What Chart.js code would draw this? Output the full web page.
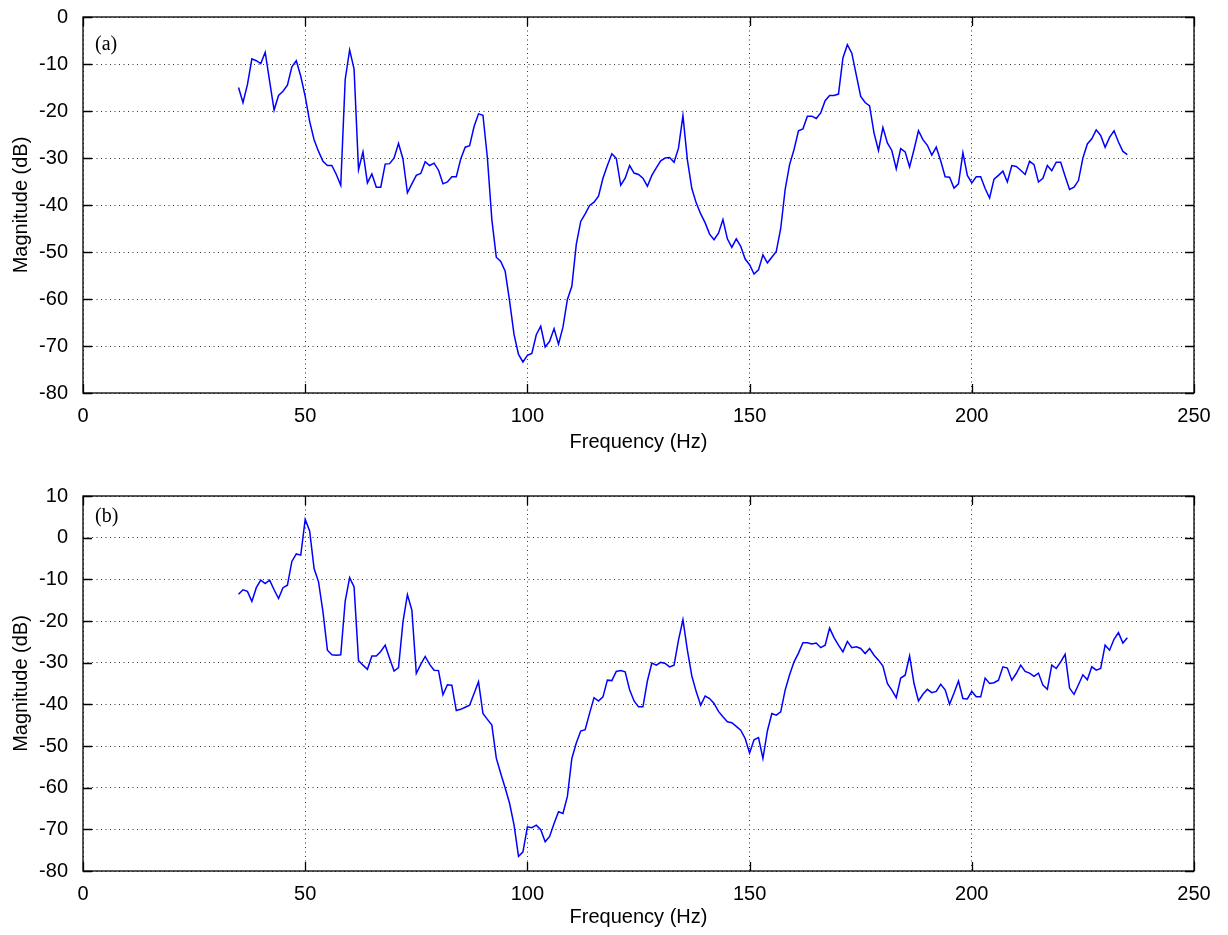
<!DOCTYPE html>
<html>
<head>
<meta charset="utf-8">
<title>Magnitude vs Frequency</title>
<script src="https://cdn.jsdelivr.net/npm/chart.js@4.4.0/dist/chart.umd.min.js"></script>
<style>
  html, body { margin: 0; padding: 0; background: #fff; }
  #wrap { position: relative; width: 1228px; height: 935px; }
  canvas { position: absolute; left: 0; }
  #chartA { top: 0; }
  #chartB { top: 467px; }
</style>
</head>
<body>
<div id="wrap">
  <canvas id="chartA" width="1228" height="467"></canvas>
  <canvas id="chartB" width="1228" height="468"></canvas>
</div>
<script>
// spectra sampled every 1 Hz starting at 35 Hz
const FREQ_START = 35;

// (a) magnitude in dB, 35..235 Hz
const magA = [
  -15.0, -18.2, -14.4, -8.9, -9.3, -9.9, -7.5, -13.7, -19.8, -16.7,
  -15.8, -14.5, -10.6, -9.3, -12.6, -16.9, -22.2, -26.1, -28.6, -30.7,
  -31.6, -31.6, -33.5, -35.8, -13.3, -7.0, -11.1, -32.5, -28.7, -35.3,
  -33.4, -36.2, -36.2, -31.3, -31.2, -30.0, -26.9, -30.2, -37.4, -35.5,
  -33.7, -33.3, -30.8, -31.6, -31.1, -32.6, -35.5, -35.1, -34.0, -34.0,
  -30.2, -27.7, -27.4, -23.3, -20.6, -20.9, -30.0, -43.1, -51.1, -52.0,
  -54.1, -60.5, -67.6, -71.8, -73.4, -72.0, -71.6, -67.6, -65.8, -70.2,
  -69.0, -66.3, -69.6, -66.0, -60.1, -57.3, -48.4, -43.5, -41.9, -40.1,
  -39.4, -38.1, -34.3, -31.6, -29.1, -30.1, -35.8, -34.3, -31.6, -33.2,
  -33.5, -34.3, -36.0, -33.7, -32.1, -30.6, -30.0, -29.9, -30.9, -27.9,
  -21.0, -30.4, -36.5, -39.6, -41.9, -43.8, -46.2, -47.4, -46.0, -43.1,
  -47.2, -49.0, -47.2, -48.8, -51.5, -52.7, -54.7, -53.8, -50.6, -52.3,
  -51.1, -49.9, -45.0, -36.7, -31.4, -28.2, -24.2, -23.8, -21.1, -21.1,
  -21.6, -20.4, -17.8, -16.7, -16.7, -16.4, -8.7, -5.9, -7.7, -12.3,
  -16.9, -18.2, -18.9, -24.7, -28.4, -23.5, -26.8, -28.4, -32.3, -28.0,
  -28.7, -31.9, -28.2, -24.2, -26.1, -27.3, -29.4, -27.7, -30.6, -34.0,
  -34.1, -36.4, -35.5, -28.9, -33.7, -35.3, -34.0, -34.0, -36.5, -38.5,
  -34.5, -33.7, -32.8, -35.1, -31.6, -31.8, -32.6, -33.5, -30.7, -31.4,
  -35.1, -34.3, -31.6, -32.7, -30.9, -30.9, -33.9, -36.7, -36.2, -34.8,
  -30.0, -27.0, -25.9, -24.0, -25.2, -27.7, -25.6, -24.2, -26.6, -28.6,
  -29.3
];

// (b) magnitude in dB, 35..235 Hz
const magB = [
  -13.6, -12.5, -12.9, -15.3, -12.0, -10.2, -11.0, -10.2, -12.5, -14.6,
  -12.0, -11.4, -5.7, -3.9, -4.2, 4.4, 1.6, -7.4, -10.6, -17.8,
  -27.0, -28.1, -28.2, -28.1, -15.2, -9.6, -11.8, -29.5, -30.6, -31.6,
  -28.4, -28.4, -27.3, -25.8, -29.0, -32.0, -31.2, -20.2, -13.7, -17.4,
  -32.6, -30.4, -28.5, -30.4, -31.8, -31.9, -37.7, -35.3, -35.4, -41.5,
  -41.2, -40.7, -40.2, -37.4, -34.6, -42.2, -43.6, -45.0, -52.9, -56.6,
  -60.1, -63.8, -69.0, -76.5, -75.4, -69.4, -69.6, -69.0, -70.1, -73.0,
  -71.7, -68.6, -65.8, -66.2, -62.1, -53.0, -49.3, -46.4, -46.1, -42.1,
  -38.4, -39.2, -38.2, -34.2, -34.3, -32.1, -31.9, -32.2, -36.5, -39.2,
  -40.6, -40.6, -34.4, -30.1, -30.6, -29.9, -30.2, -31.0, -30.6, -24.6,
  -19.7, -27.0, -33.2, -37.0, -40.2, -38.0, -38.6, -39.8, -41.7, -43.0,
  -44.2, -44.4, -45.3, -46.2, -48.2, -51.7, -48.5, -48.0, -53.0, -46.4,
  -42.2, -42.6, -41.8, -36.6, -32.9, -29.8, -27.7, -25.2, -25.2, -25.5,
  -25.3, -26.4, -25.8, -21.7, -24.0, -25.8, -27.4, -24.9, -26.4, -26.2,
  -26.6, -27.8, -26.6, -28.2, -29.4, -30.8, -35.0, -36.6, -38.4, -33.7,
  -33.0, -28.4, -35.0, -39.2, -37.6, -36.4, -37.2, -36.9, -35.2, -36.5,
  -40.0, -37.3, -34.4, -38.6, -38.7, -36.9, -38.2, -38.2, -33.7, -35.0,
  -34.8, -34.2, -31.0, -31.3, -34.2, -32.6, -30.6, -32.1, -32.5, -33.3,
  -32.5, -35.4, -36.4, -30.6, -31.4, -29.8, -28.0, -36.1, -37.6, -35.3,
  -32.9, -34.1, -31.0, -31.8, -31.4, -25.8, -27.0, -24.4, -22.8, -25.3,
  -24.0
];

const xTicks = [0, 50, 100, 150, 200, 250];
const yTicksA = [-80, -70, -60, -50, -40, -30, -20, -10, 0];
const yTicksB = [-80, -70, -60, -50, -40, -30, -20, -10, 0, 10];

const SANS = '"Liberation Sans", Arial, Helvetica, sans-serif';

// box round the plot, inward tick marks and the panel letter
const framePlugin = {
    id: 'frame',
    afterDraw(chart, args, opts) {
        const { ctx, chartArea: a, scales } = chart;
        ctx.save();
        ctx.strokeStyle = '#000';
        ctx.lineWidth = 1.3;
        ctx.strokeRect(a.left, a.top, a.right - a.left, a.bottom - a.top);

        const len = 9;
        ctx.beginPath();
        scales.x.ticks.forEach(t => {
            const px = Math.round(scales.x.getPixelForValue(t.value)) + 0.5;
            ctx.moveTo(px, a.bottom); ctx.lineTo(px, a.bottom - len);
            ctx.moveTo(px, a.top); ctx.lineTo(px, a.top + len);
        });
        scales.y.ticks.forEach(t => {
            const py = Math.round(scales.y.getPixelForValue(t.value)) + 0.5;
            ctx.moveTo(a.left, py); ctx.lineTo(a.left + len, py);
            ctx.moveTo(a.right, py); ctx.lineTo(a.right - len, py);
        });
        ctx.stroke();

        ctx.font = '20px "Liberation Serif", "Times New Roman", serif';
        ctx.fillStyle = '#000';
        ctx.textBaseline = 'middle';
        ctx.fillText(opts.label, a.left + 12, a.top + opts.labelDy);
        ctx.restore();
    }
};

function makeChart(id, values, yMin, yMax, yTicks, cfg) {
    const ctx = document.getElementById(id).getContext('2d');
    const points = values.map((v, i) => ({ x: FREQ_START + i, y: v }));

    return new Chart(ctx, {
        type: 'line',
        data: {
            datasets: [{
                data: points,
                borderColor: '#0000ff',
                borderWidth: 1.5,
                pointRadius: 0,
                tension: 0,
                fill: false
            }]
        },
        options: {
            responsive: false,
            animation: false,
            layout: { padding: { top: cfg.padTop, right: 34, bottom: 0, left: 0 } },
            plugins: {
                legend: { display: false },
                tooltip: { enabled: false },
                frame: { label: cfg.label, labelDy: cfg.labelDy }
            },
            scales: {
                x: {
                    type: 'linear',
                    min: 0,
                    max: 250,
                    afterBuildTicks: s => { s.ticks = xTicks.map(v => ({ value: v })); },
                    afterFit: s => {
                        s.height = cfg.xHeight;
                        s.paddingLeft = 0;
                        s.paddingRight = 0;
                    },
                    ticks: { color: '#000', font: { family: SANS, size: 20 }, padding: 11, maxRotation: 0 },
                    grid: { color: '#333', lineWidth: 1, drawTicks: false },
                    border: { display: false, dash: [1, 3.5] },
                    title: {
                        display: true,
                        text: 'Frequency (Hz)',
                        color: '#000',
                        font: { family: SANS, size: 20 },
                        padding: { top: 0, bottom: cfg.xTitlePad }
                    }
                },
                y: {
                    min: yMin,
                    max: yMax,
                    afterBuildTicks: s => { s.ticks = yTicks.map(v => ({ value: v })); },
                    afterFit: s => {
                        s.width = 83;
                        s.paddingTop = 0;
                        s.paddingBottom = 0;
                    },
                    ticks: { color: '#000', font: { family: SANS, size: 20 }, padding: 15 },
                    grid: { color: '#333', lineWidth: 1, drawTicks: false },
                    border: { display: false, dash: [1, 3.5] },
                    title: {
                        display: true,
                        text: 'Magnitude (dB)',
                        color: '#000',
                        font: { family: SANS, size: 20 },
                        padding: { top: 9, bottom: 0 }
                    }
                }
            }
        },
        plugins: [framePlugin]
    });
}

document.addEventListener('DOMContentLoaded', () => {
    makeChart('chartA', magA, -80, 0, yTicksA,
        { label: '(a)', labelDy: 28, padTop: 17, xHeight: 74, xTitlePad: 13 });
    makeChart('chartB', magB, -80, 10, yTicksB,
        { label: '(b)', labelDy: 21, padTop: 29, xHeight: 64, xTitlePad: 6 });
});
</script>
</body>
</html>
